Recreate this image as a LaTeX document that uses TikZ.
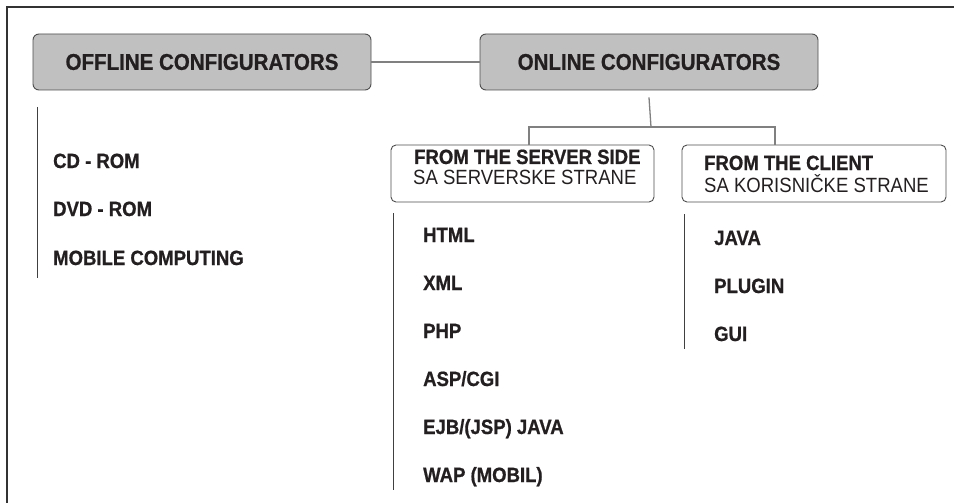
\documentclass[tikz,border=0pt]{standalone}
\usepackage{fontspec}
\setmainfont{Liberation Sans}[FakeStretch=0.9, BoldFeatures={FakeBold=0.8}]
\definecolor{boxgray}{HTML}{C0C0C0}
\definecolor{boxline}{HTML}{4D4D4D}
\definecolor{connc}{HTML}{808080}
\definecolor{ink}{HTML}{231F20}
\definecolor{framec}{HTML}{333333}
\definecolor{railc}{HTML}{404040}
\begin{document}
\begin{tikzpicture}[x=1pt,y=-1pt,
  hdr/.style={draw=boxline, fill=boxgray, rounded corners=6pt, line width=0.9pt,
    minimum width=338pt, minimum height=56pt, inner sep=0pt,
    font=\fontsize{22.8}{26}\selectfont\bfseries, text=ink},
  subbox/.style={draw=boxline, rounded corners=5pt, line width=0.9pt,
    minimum height=57pt, inner sep=0pt},
  conn/.style={draw=connc, line width=1.3pt},
  item/.style={anchor=base west, inner sep=0pt,
    font=\fontsize{20.6}{24}\selectfont\bfseries, text=ink},
  subtxt/.style={anchor=base west, inner sep=0pt,
    font=\fontsize{20.6}{24}\selectfont, text=ink},
  rail/.style={draw=railc, line width=0.9pt},
  framel/.style={draw=framec, line width=1.5pt}]
\useasboundingbox (0,0) rectangle (954,503);
% frame (top and left)
\draw[framel] (954,7) -- (7,7) -- (7,503);
% header boxes
\node[hdr] (off) at (202,62) {OFFLINE CONFIGURATORS};
\node[hdr] (on) at (649,62) {ONLINE CONFIGURATORS};
\draw[conn] (off.east) -- (on.west);
% sub boxes
\node[subbox, minimum width=263pt] (srv) at (522.5,173.5) {};
\node[subbox, minimum width=264pt] (cli) at (814,173.5) {};
\node[item] (srv1) at (414,164) {FROM THE SERVER SIDE};
\node[subtxt] (srv2) at (413,184) {SA SERVERSKE STRANE};
\node[item] (cli1) at (704,170) {FROM THE CLIENT};
\node[subtxt] (cli2) at (704,192) {SA KORISNIČKE STRANE};
% branch
\coordinate (j) at (651,127);
\draw[conn] ([yshift=-7pt]on.south) -- (j);
\draw[conn] ([xshift=6.5pt]srv.north) |- (j) -| ([xshift=-39pt]cli.north);
% offline list
\draw[rail] (37,107) -- (37,278);
\node[item] (cd) at (53,168) {CD - ROM};
\node[item] (dvd) at (53,216) {DVD - ROM};
\node[item] (mob) at (53,265) {MOBILE COMPUTING};
% server list
\draw[rail] (393,213) -- (393,490);
\node[item] (html) at (423,242) {HTML};
\node[item] (xml) at (423,290) {XML};
\node[item] (php) at (423,338) {PHP};
\node[item] (asp) at (423,386) {ASP/CGI};
\node[item] (ejb) at (423,434) {EJB/(JSP) JAVA};
\node[item] (wap) at (423,482) {WAP (MOBIL)};
% client list
\draw[rail] (684,214) -- (684,349);
\node[item] (java) at (714,245) {JAVA};
\node[item] (plug) at (714,293) {PLUGIN};
\node[item] (gui) at (714,341) {GUI};
\end{tikzpicture}
\end{document}
